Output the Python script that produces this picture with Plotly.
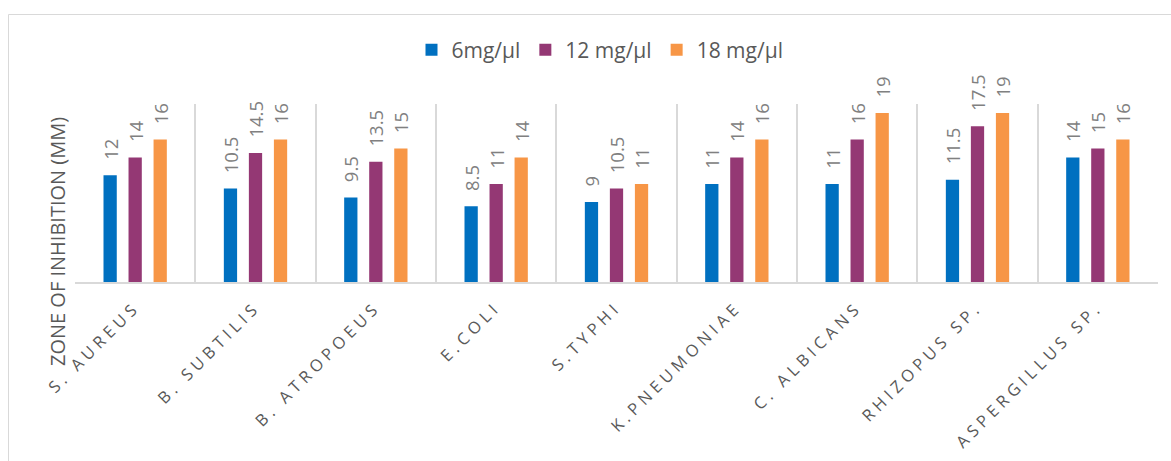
import plotly.graph_objects as go

# Test organisms and zone-of-inhibition diameters (mm) per extract concentration
organisms = ["S. AUREUS", "B. SUBTILIS", "B. ATROPOEUS", "E.COLI", "S.TYPHI",
             "K.PNEUMONIAE", "C. ALBICANS", "RHIZOPUS SP.", "ASPERGILLUS SP."]
conc_6 = [12, 10.5, 9.5, 8.5, 9, 11, 11, 11.5, 14]
conc_12 = [14, 14.5, 13.5, 11, 10.5, 14, 16, 17.5, 15]
conc_18 = [16, 16, 15, 14, 11, 16, 19, 19, 16]

series_names = ["6mg/µl", "12 mg/µl", "18 mg/µl"]
series_colors = ["#0070C0", "#943874", "#F79646"]

W, H = 1171, 461
ML, MR, MT, MB = 75, 13, 104, 179
plot_w = W - ML - MR
plot_h = H - MT - MB


def px_x(p):
    return (p - ML) / plot_w


def px_y(p):
    return (H - MB - p) / plot_h


fig = go.Figure()
for name, vals, col in zip(series_names, [conc_6, conc_12, conc_18], series_colors):
    fig.add_trace(go.Bar(
        name=name, x=organisms, y=vals,
        marker=dict(color=col, line=dict(width=0)),
        # leading fixed-width spaces lift the rotated value label off the bar top
        texttemplate="\u2002\u2009%{y}",
        textposition="outside", textangle=-90,
        textfont=dict(family="Open Sans", size=18.5, color="#808080"),
        constraintext="none", cliponaxis=False,
        hoverinfo="skip",
    ))

fig.update_layout(
    width=W, height=H,
    margin=dict(l=ML, r=MR, t=MT, b=MB),
    paper_bgcolor="white", plot_bgcolor="white",
    barmode="group", bargap=0.376, bargroupgap=0.47,
    font=dict(family="Open Sans", color="#595959"),
    showlegend=True,
    legend=dict(orientation="h", x=px_x(600), xanchor="center",
                y=px_y(50), yanchor="middle",
                font=dict(size=21, color="#595959"),
                itemwidth=30, traceorder="normal"),
    xaxis=dict(
        type="category", tickson="boundaries", showgrid=True,
        gridcolor="#D9D9D9", gridwidth=1.5,
        showline=True, linecolor="#D9D9D9", linewidth=2,
        ticks="", tickangle=-45, ticklabelstandoff=7,
        tickfont=dict(family="Open Sans", size=16.5, color="#595959"),
        range=[-0.5, 8.5],
    ),
    yaxis=dict(range=[0, 20], showgrid=False, showticklabels=False,
               zeroline=False, showline=False, ticks=""),
    shapes=[dict(type="rect", xref="paper", yref="paper",
                 x0=px_x(8.5), x1=px_x(W + 5), y0=px_y(H + 5), y1=px_y(14.5),
                 line=dict(color="#D9D9D9", width=1), layer="below")],
    annotations=[dict(text="ZONE OF INHIBITION (MM)", xref="paper", yref="paper",
                      x=px_x(57), y=px_y(242), textangle=-90, showarrow=False,
                      xanchor="center", yanchor="middle",
                      font=dict(family="Open Sans", size=20, color="#595959"))],
)

# widen the character spacing of the category labels
letter_spacing_js = """
var gd = document.getElementById('{plot_id}');
function spaceLabels() {
  gd.querySelectorAll('.xtick text').forEach(function (t) {
    t.setAttribute('letter-spacing', '4.5px');
  });
}
spaceLabels();
gd.on('plotly_afterplot', spaceLabels);
"""

fig.write_html("out.html", post_script=letter_spacing_js)
